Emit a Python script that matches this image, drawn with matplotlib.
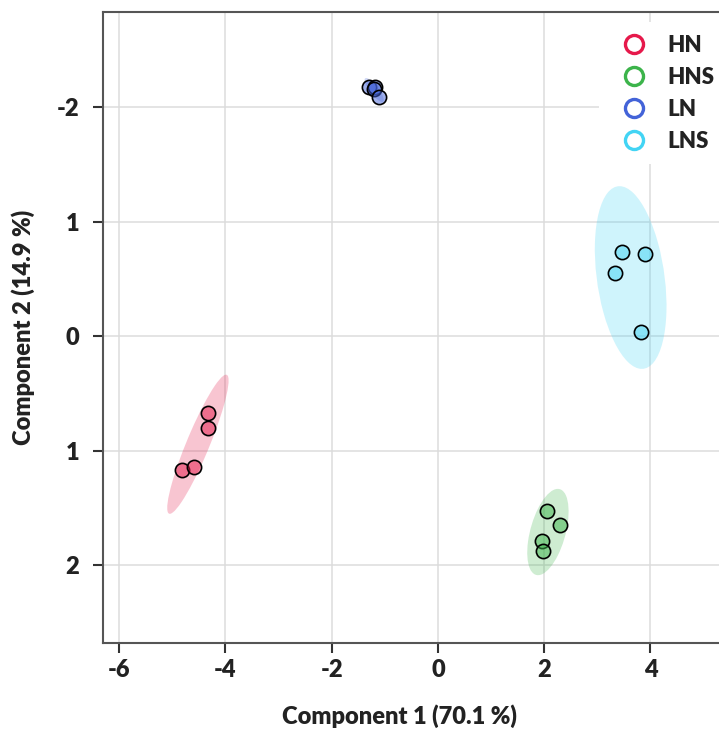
import numpy as np
import matplotlib
matplotlib.use("Agg")
from matplotlib import pyplot as plt
from matplotlib.patches import Ellipse
from matplotlib.lines import Line2D

# scores
groups = ["HN", "HNS", "LN", "LNS"]
colors = ["#e6194b", "#3cb44b", "#4363d8", "#42d4f4"]
hn_x = [-4.33, -4.33, -4.82, -4.59]
hn_y = [0.67, 0.80, 1.17, 1.14]
hns_x = [2.05, 2.30, 1.95, 1.98]
hns_y = [1.53, 1.65, 1.79, 1.88]
ln_x = [-1.29, -1.19, -1.21, -1.11]
ln_y = [-2.18, -2.18, -2.16, -2.09]
lns_x = [3.46, 3.90, 3.33, 3.82]
lns_y = [-0.74, -0.72, -0.55, -0.04]
xs = [hn_x, hns_x, ln_x, lns_x]
ys = [hn_y, hns_y, ln_y, lns_y]

x_ticks = [-6, -4, -2, 0, 2, 4]
y_ticks = [-2, -1, 0, 1, 2]
y_ticklabels = ["-2", "1", "0", "1", "2"]

plt.rcParams['font.family'] = ['Lato', 'DejaVu Sans']
plt.rcParams['font.weight'] = 'heavy'
plt.rcParams['axes.unicode_minus'] = False

fig = plt.figure(figsize=(7.19, 7.29), dpi=100)
ax = fig.add_axes([0.1428, 0.1184, 0.8572, 0.8645])

# 95% confidence ellipses (chi2, 2 dof)
k = np.sqrt(-2 * np.log(0.05))
for gx, gy, c in zip(xs, ys, colors):
    pts = np.vstack([gx, gy])
    cov = np.cov(pts)
    vals, vecs = np.linalg.eigh(cov)
    angle = np.degrees(np.arctan2(vecs[1, 1], vecs[0, 1]))
    w, h = 2 * k * np.sqrt(vals[1]), 2 * k * np.sqrt(vals[0])
    e = Ellipse((np.mean(gx), np.mean(gy)), w, h, angle=angle,
                facecolor=c, alpha=0.25, edgecolor='none', zorder=1)
    ax.add_patch(e)

for gx, gy, c in zip(xs, ys, colors):
    ax.scatter(gx, gy, s=105, facecolor=matplotlib.colors.to_rgba(c, 0.5),
               edgecolor='black', linewidth=1.2, zorder=3)

ax.set_xlim(-6.31, 5.29)
ax.set_ylim(2.68, -2.83)
ax.set_xticks(x_ticks)
ax.set_yticks(y_ticks)
ax.set_yticklabels(y_ticklabels)
ax.grid(True, color='#dcdcdc', linewidth=1.1, zorder=0)
ax.set_axisbelow(True)

for s in ['left', 'bottom', 'top']:
    ax.spines[s].set_color('#555555')
    ax.spines[s].set_linewidth(1.5)
ax.spines['right'].set_visible(False)
ax.tick_params(axis='both', length=7, width=1.5, color='#333333',
               labelsize=17, labelcolor='#222222')
ax.tick_params(axis='x', pad=5)
ax.tick_params(axis='y', pad=10)
ax.tick_params(top=False, right=False)

ax.set_xlabel('Component 1 (70.1 %)', fontsize=17, fontweight='heavy', color='#222222')
ax.set_ylabel('Component 2 (14.9 %)', fontsize=17, fontweight='heavy', color='#222222')
ax.xaxis.set_label_coords(0.481, -0.097)
ax.yaxis.set_label_coords(-0.1095, 0.5)

handles = [Line2D([], [], marker='o', linestyle='none', markersize=13,
                  markerfacecolor='none', markeredgecolor=c, markeredgewidth=2.4)
           for c in colors]
leg = ax.legend(handles, groups, loc='upper right', bbox_to_anchor=(1.03, 1.002),
                frameon=True, fontsize=16, handletextpad=0.5, labelspacing=0.5,
                borderpad=0.55)
leg.get_frame().set_facecolor('white')
leg.get_frame().set_edgecolor('none')
leg.get_frame().set_alpha(1.0)
for t in leg.get_texts():
    t.set_fontweight('heavy')
    t.set_color('#222222')

fig.savefig('out.png', dpi=100)
